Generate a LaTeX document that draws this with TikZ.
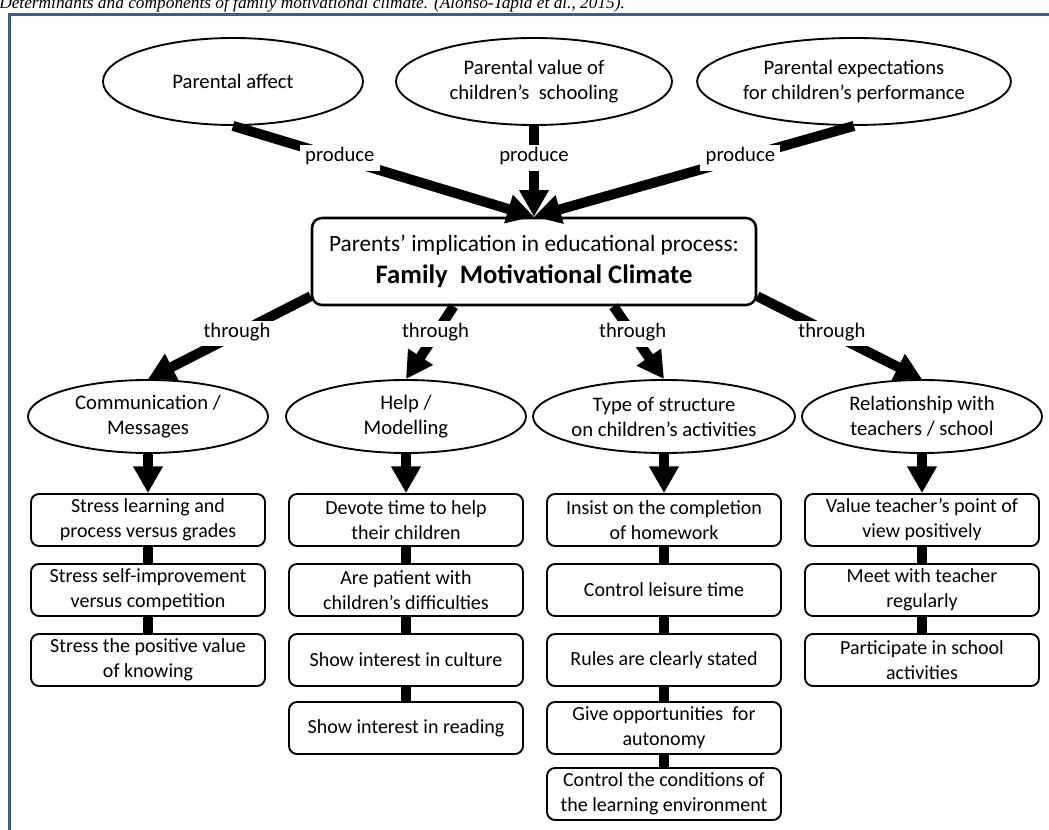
\documentclass[tikz,border=0pt]{standalone}
\usepackage{fontspec}
\setmainfont{Carlito}
\newfontfamily\capfont{Liberation Serif}
\usetikzlibrary{arrows.meta,shapes.geometric,calc}
\definecolor{framecol}{RGB}{54,95,145}
\begin{document}
\begin{tikzpicture}[x=0.75pt,y=-0.75pt,
  txt/.style={font=\fontsize{15.5}{18.75}\selectfont},
  topell/.style={ellipse, draw, line width=1.4pt, minimum height=65.25pt, inner sep=0pt, align=center, txt},
  midell/.style={ellipse, draw, line width=1.4pt, minimum width=180pt, minimum height=54.75pt, inner sep=0pt, align=center, txt},
  cbox/.style={rectangle, rounded corners=7.5pt, draw, line width=1.9pt, fill=white, minimum width=333pt, minimum height=65.25pt, inner sep=0pt, align=center},
  itembox/.style={rectangle, rounded corners=6pt, draw, line width=1.4pt, minimum width=175.5pt, minimum height=39pt, inner sep=0pt, align=center, font=\fontsize{15}{18.75}\selectfont},
  bigarrow/.style={line width=7.5pt, -{Triangle[width=21pt,length=20pt]}},
  conn/.style={line width=7.5pt},
  lbl/.style={fill=white, inner xsep=4pt, inner ysep=4.5pt, text height=0.75em, text depth=0.25em, txt}
]
\useasboundingbox (0,0) rectangle (1049,830);

% caption and frame
\node[anchor=base west, inner sep=0pt, font=\capfont\itshape\fontsize{13}{15}\selectfont] (cap) at (-1,8.5)
  {Determinants and components of family motivational climate. (Alonso-Tapia et al., 2015).};
\draw[framecol, line width=2.2pt, line join=miter] (9.5,831) -- (9.5,14.7) -- (1050,14.7);

% top ellipses
\node[topell, minimum width=195pt] (e1) at (233,81.5) {Parental affect};
\node[topell, minimum width=207pt] (e2) at (534,81.5) {Parental value of\\children’s\ \ schooling};
\node[topell, minimum width=207pt] (e3) at (854,81.5) {Parental expectations\\for children’s performance};

% central box
\node[cbox] (c) at (534,261.5) {{\fontsize{17.5}{21}\selectfont Parents’ implication in educational process:}\\[6pt]
  {\fontsize{20}{24}\selectfont\bfseries Family\ \ Motivational Climate}};

\draw[bigarrow] (e1.south) -- node[lbl, pos=0.355] {produce} (c.north);
\draw[bigarrow] (e2.south) -- node[lbl, pos=0.355] {produce} (c.north);
\draw[bigarrow] (e3.south) -- node[lbl, pos=0.355] {produce} (c.north);

% second level
\node[midell] (m1) at (148,416.5) {Communication /\\Messages};
\node[midell] (m2) at (406,416.5) {Help /\\Modelling};
\node[midell] (m3) at (664,416.5) {Type of structure\\on children’s activities};
\node[midell] (m4) at (922,416.5) {Relationship with\\teachers / school};

\coordinate (s1) at ($(c.south west)+(0,-10)$);
\coordinate (s2) at ($(c.south west)!0.32!(c.south east)$);
\coordinate (s3) at ($(c.south west)!0.678!(c.south east)$);
\coordinate (s4) at ($(c.south east)+(0,-10)$);

\draw[bigarrow] (s1) -- node[lbl, pos=0.453] {through} (m1.north);
\draw[bigarrow] (s2) -- node[lbl, pos=0.38] {through} (m2.north);
\draw[bigarrow] (s3) -- node[lbl, pos=0.38] {through} (m3.north);
\draw[bigarrow] (s4) -- node[lbl, pos=0.453] {through} (m4.north);

% column 1
\node[itembox] (a1) at (148,520) {Stress learning and\\process versus grades};
\node[itembox] (a2) at (148,590) {Stress self-improvement\\versus competition};
\node[itembox] (a3) at (148,660) {Stress the positive value\\of knowing};
% column 2
\node[itembox] (b1) at (406,520) {Devote time to help\\their children};
\node[itembox] (b2) at (406,590) {Are patient with\\children’s difficulties};
\node[itembox] (b3) at (406,660) {Show interest in culture};
\node[itembox] (b4) at (406,728) {Show interest in reading};
% column 3
\node[itembox] (d1) at (664,520) {Insist on the completion\\of homework};
\node[itembox] (d2) at (664,590) {Control leisure time};
\node[itembox] (d3) at (664,660) {Rules are clearly stated};
\node[itembox] (d4) at (664,728) {Give opportunities\ \ for\\autonomy};
\node[itembox] (d5) at (664,794) {Control the conditions of\\the learning environment};
% column 4
\node[itembox] (f1) at (922,520) {Value teacher’s point of\\view positively};
\node[itembox] (f2) at (922,590) {Meet with teacher\\regularly};
\node[itembox] (f3) at (922,660) {Participate in school\\activities};

\draw[bigarrow] (m1.south) -- (a1.north);
\draw[bigarrow] (m2.south) -- (b1.north);
\draw[bigarrow] (m3.south) -- (d1.north);
\draw[bigarrow] (m4.south) -- (f1.north);

\draw[conn] (a1.south) -- (a2.north);
\draw[conn] (a2.south) -- (a3.north);
\draw[conn] (b1.south) -- (b2.north);
\draw[conn] (b2.south) -- (b3.north);
\draw[conn] (b3.south) -- (b4.north);
\draw[conn] (d1.south) -- (d2.north);
\draw[conn] (d2.south) -- (d3.north);
\draw[conn] (d3.south) -- (d4.north);
\draw[conn] (d4.south) -- (d5.north);
\draw[conn] (f1.south) -- (f2.north);
\draw[conn] (f2.south) -- (f3.north);
\end{tikzpicture}
\end{document}
